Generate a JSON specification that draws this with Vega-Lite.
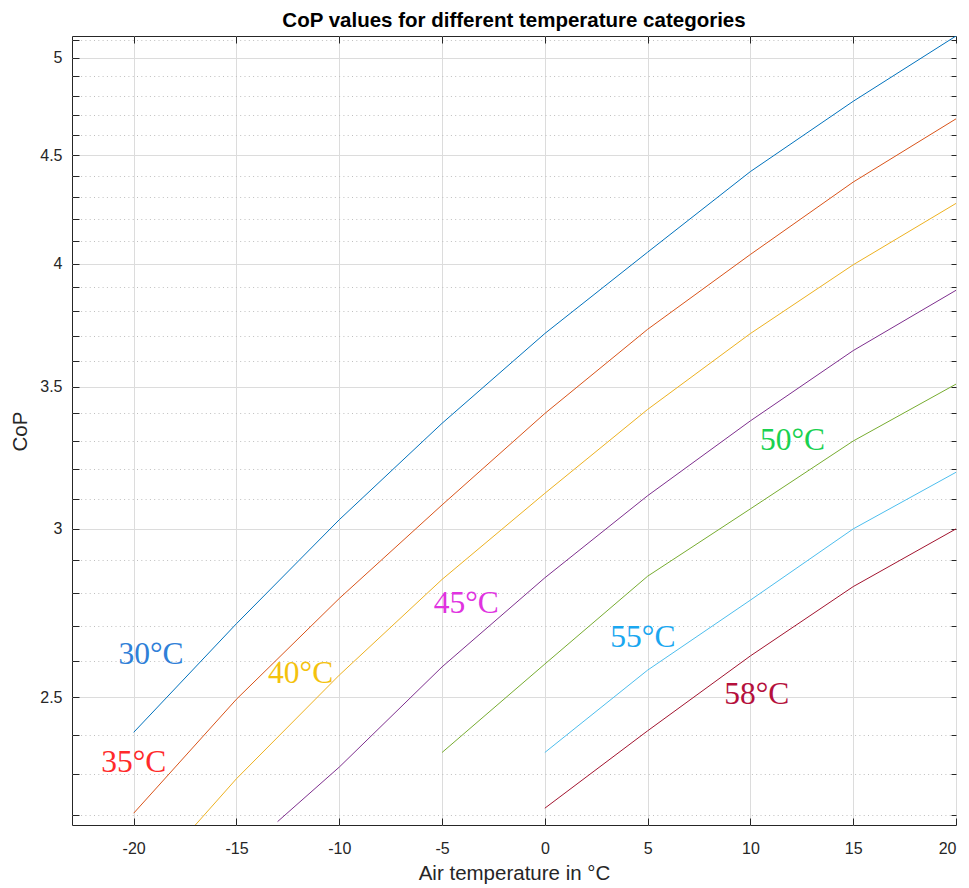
{
  "$schema": "https://vega.github.io/schema/vega-lite/v6.json",
  "width": 884,
  "height": 789,
  "autosize": {"type": "none"},
  "padding": {"left": 72, "top": 36, "right": 13, "bottom": 63},
  "background": "white",
  "title": {
    "text": "CoP values for different temperature categories",
    "font": "Liberation Sans",
    "fontSize": 20.5,
    "fontWeight": "bold",
    "color": "#000000",
    "anchor": "middle",
    "baseline": "alphabetic",
    "offset": -14
  },
  "config": {
    "view": {"stroke": "#262626", "strokeWidth": 1},
    "axis": {
      "labelFont": "Liberation Sans",
      "titleFont": "Liberation Sans",
      "labelColor": "#262626",
      "titleColor": "#262626",
      "tickColor": "#262626",
      "titleFontWeight": "normal",
      "domain": false
    }
  },
  "datasets": {
    "curves": [
      {"T": "30°C", "x": -20, "cop": 2.406},
      {"T": "30°C", "x": -15, "cop": 2.707},
      {"T": "30°C", "x": -10, "cop": 3.03},
      {"T": "30°C", "x": -5, "cop": 3.364},
      {"T": "30°C", "x": 0, "cop": 3.708},
      {"T": "30°C", "x": 5, "cop": 4.05},
      {"T": "30°C", "x": 10, "cop": 4.42},
      {"T": "30°C", "x": 15, "cop": 4.77},
      {"T": "30°C", "x": 20, "cop": 5.12},
      {"T": "35°C", "x": -20, "cop": 2.204},
      {"T": "35°C", "x": -15, "cop": 2.494},
      {"T": "35°C", "x": -10, "cop": 2.782},
      {"T": "35°C", "x": -5, "cop": 3.079},
      {"T": "35°C", "x": 0, "cop": 3.40},
      {"T": "35°C", "x": 5, "cop": 3.725},
      {"T": "35°C", "x": 10, "cop": 4.04},
      {"T": "35°C", "x": 15, "cop": 4.37},
      {"T": "35°C", "x": 20, "cop": 4.68},
      {"T": "40°C", "x": -17, "cop": 2.176},
      {"T": "40°C", "x": -15, "cop": 2.288},
      {"T": "40°C", "x": -10, "cop": 2.56},
      {"T": "40°C", "x": -5, "cop": 2.84},
      {"T": "40°C", "x": 0, "cop": 3.118},
      {"T": "40°C", "x": 5, "cop": 3.415},
      {"T": "40°C", "x": 10, "cop": 3.708},
      {"T": "40°C", "x": 15, "cop": 3.995},
      {"T": "40°C", "x": 20, "cop": 4.27},
      {"T": "45°C", "x": -13, "cop": 2.184},
      {"T": "45°C", "x": -10, "cop": 2.317},
      {"T": "45°C", "x": -5, "cop": 2.583},
      {"T": "45°C", "x": 0, "cop": 2.845},
      {"T": "45°C", "x": 5, "cop": 3.11},
      {"T": "45°C", "x": 10, "cop": 3.373},
      {"T": "45°C", "x": 15, "cop": 3.64},
      {"T": "45°C", "x": 20, "cop": 3.886},
      {"T": "50°C", "x": -5, "cop": 2.354},
      {"T": "50°C", "x": 0, "cop": 2.591},
      {"T": "50°C", "x": 5, "cop": 2.85},
      {"T": "50°C", "x": 10, "cop": 3.066},
      {"T": "50°C", "x": 15, "cop": 3.30},
      {"T": "50°C", "x": 20, "cop": 3.51},
      {"T": "55°C", "x": 0, "cop": 2.354},
      {"T": "55°C", "x": 5, "cop": 2.574},
      {"T": "55°C", "x": 10, "cop": 2.777},
      {"T": "55°C", "x": 15, "cop": 3.0},
      {"T": "55°C", "x": 20, "cop": 3.19},
      {"T": "58°C", "x": 0, "cop": 2.216},
      {"T": "58°C", "x": 5, "cop": 2.41},
      {"T": "58°C", "x": 10, "cop": 2.614},
      {"T": "58°C", "x": 15, "cop": 2.818},
      {"T": "58°C", "x": 20, "cop": 3.0}
    ],
    "labels": [
      {"label": "30°C", "x": -19.16, "cop": 2.616},
      {"label": "35°C", "x": -20.0, "cop": 2.327},
      {"label": "40°C", "x": -11.88, "cop": 2.563},
      {"label": "45°C", "x": -3.82, "cop": 2.765},
      {"label": "50°C", "x": 12.05, "cop": 3.30},
      {"label": "55°C", "x": 4.77, "cop": 2.664},
      {"label": "58°C", "x": 10.31, "cop": 2.505}
    ]
  },
  "layer": [
    {
      "layer": [
        {
          "data": {"name": "curves"},
          "mark": {"type": "line", "strokeWidth": 1, "clip": true},
          "encoding": {
            "x": {
              "field": "x",
              "type": "quantitative",
              "scale": {"domain": [-23, 20], "nice": false, "zero": false},
              "axis": {
                "orient": "bottom",
                "values": [-20, -15, -10, -5, 0, 5, 10, 15, 20],
                "labelExpr": "datum.value + ''",
                "title": "Air temperature in °C",
                "titleFontSize": 20.5,
                "titlePadding": 7,
                "labelFontSize": 16,
                "tickSize": -7,
                "labelPadding": 22,
                "grid": true,
                "gridColor": "#dcdcdc",
                "gridWidth": 1
              }
            },
            "y": {
              "field": "cop",
              "type": "quantitative",
              "scale": {"type": "log", "domain": [2.176, 5.12], "nice": false, "zero": false},
              "axis": {
                "orient": "left",
                "values": [2.2, 2.3, 2.4, 2.5, 2.6, 2.7, 2.8, 2.9, 3.0, 3.1, 3.2, 3.3, 3.4, 3.5, 3.6, 3.7, 3.8, 3.9, 4.0, 4.1, 4.2, 4.3, 4.4, 4.5, 4.6, 4.7, 4.8, 4.9, 5.0, 5.1],
                "format": "~g",
                "labelExpr": "abs(datum.value*2 - round(datum.value*2)) < 0.001 ? datum.label : ''",
                "title": "CoP",
                "titleFontSize": 20.5,
                "titleAngle": 270,
                "titleAlign": "center",
                "titleBaseline": "alphabetic",
                "titleX": -46,
                "titleY": 395,
                "labelFontSize": 16,
                "tickSize": -7,
                "labelPadding": 17,
                "grid": true,
                "gridColor": {"condition": {"test": "abs(datum.value*2 - round(datum.value*2)) < 0.001", "value": "#dcdcdc"}, "value": "#bfbfbf"},
                "gridDash": {"condition": {"test": "abs(datum.value*2 - round(datum.value*2)) < 0.001", "value": []}, "value": [1, 3.3]},
                "gridWidth": 1
              }
            },
            "stroke": {
              "field": "T",
              "type": "nominal",
              "scale": {
                "domain": ["30°C", "35°C", "40°C", "45°C", "50°C", "55°C", "58°C"],
                "range": ["#0072BD", "#D95319", "#EDB120", "#7E2F8E", "#77AC30", "#4DBEEE", "#A2142F"]
              },
              "legend": null
            },
            "detail": {"field": "T"}
          }
        },
        {
          "data": {"name": "labels"},
          "mark": {"type": "text", "font": "Liberation Serif", "fontSize": 31.5, "align": "center", "baseline": "middle"},
          "encoding": {
            "x": {"field": "x", "type": "quantitative"},
            "y": {"field": "cop", "type": "quantitative"},
            "text": {"field": "label"},
            "fill": {
              "field": "label",
              "type": "nominal",
              "scale": {
                "domain": ["30°C", "35°C", "40°C", "45°C", "50°C", "55°C", "58°C"],
                "range": ["#2f80d8", "#ff2a2a", "#f4c20d", "#e033e0", "#19d150", "#1aa7f0", "#b5103c"]
              },
              "legend": null
            }
          }
        }
      ]
    },
    {
      "data": {"name": "curves"},
      "mark": {"type": "point", "opacity": 0},
      "encoding": {
        "x": {
          "field": "x",
          "type": "quantitative",
          "axis": {
            "orient": "top",
            "values": [-20, -15, -10, -5, 0, 5, 10, 15, 20],
            "labels": false,
            "title": null,
            "grid": false,
            "tickSize": -7
          }
        },
        "y": {
          "field": "cop",
          "type": "quantitative",
          "axis": {
            "orient": "right",
            "values": [2.2, 2.3, 2.4, 2.5, 2.6, 2.7, 2.8, 2.9, 3.0, 3.1, 3.2, 3.3, 3.4, 3.5, 3.6, 3.7, 3.8, 3.9, 4.0, 4.1, 4.2, 4.3, 4.4, 4.5, 4.6, 4.7, 4.8, 4.9, 5.0, 5.1],
            "labels": false,
            "title": null,
            "grid": false,
            "tickSize": -5
          }
        }
      }
    }
  ],
  "resolve": {"axis": {"x": "independent", "y": "independent"}}
}
